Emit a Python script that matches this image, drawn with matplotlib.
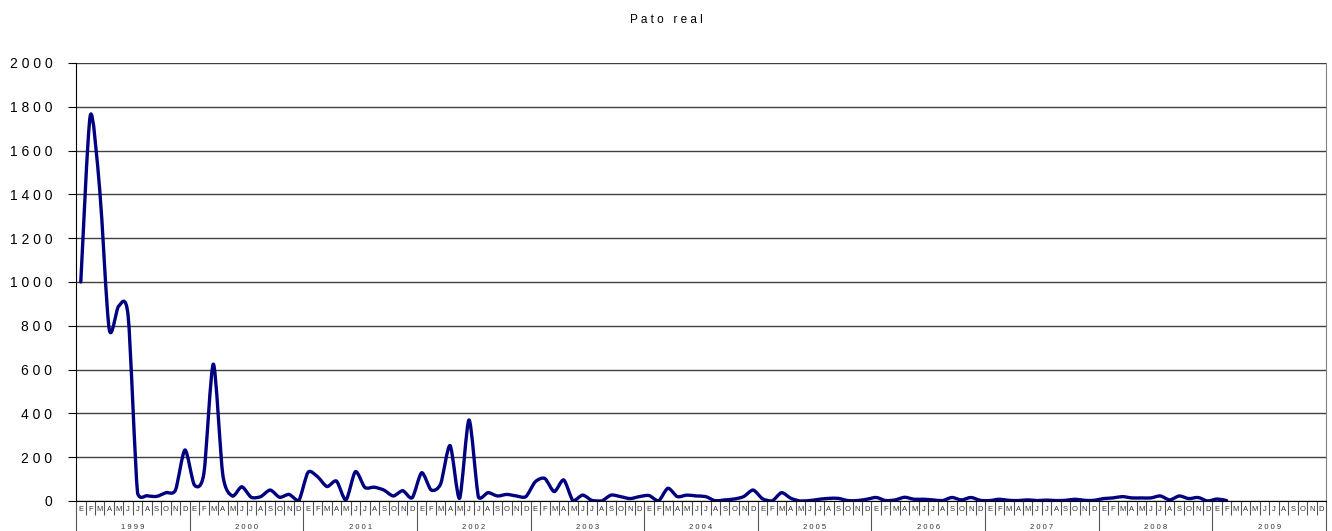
import numpy as np
import matplotlib
matplotlib.use('Agg')
import matplotlib.pyplot as plt
import matplotlib.transforms as mtransforms
from matplotlib.path import Path
from matplotlib.patches import PathPatch

plt.rcParams['font.family'] = ['Liberation Sans', 'DejaVu Sans']

years = ['1999', '2000', '2001', '2002', '2003', '2004', '2005', '2006', '2007', '2008', '2009']
months = ['E', 'F', 'M', 'A', 'M', 'J', 'J', 'A', 'S', 'O', 'N', 'D']

# monthly counts, Jan 1999 .. Feb 2009
v1999 = [1000, 1760, 1420, 785, 890, 845, 35, 24, 21, 38, 50, 233]
v2000 = [73, 126, 625, 119, 23, 65, 17, 20, 50, 17, 30, 0]
v2001 = [131, 111, 66, 91, 5, 134, 62, 63, 50, 23, 47, 15]
v2002 = [129, 50, 78, 253, 12, 370, 17, 38, 23, 30, 23, 20]
v2003 = [88, 103, 43, 96, 0, 27, 2, 0, 27, 20, 11, 20]
v2004 = [25, 0, 58, 20, 27, 23, 20, 1, 5, 9, 20, 50]
v2005 = [10, 0, 38, 12, 0, 2, 8, 12, 12, 2, 2, 8]
v2006 = [16, 2, 5, 17, 8, 8, 5, 2, 16, 5, 16, 3]
v2007 = [2, 8, 3, 2, 5, 2, 4, 2, 3, 8, 3, 3]
v2008 = [11, 14, 20, 14, 14, 14, 23, 5, 23, 11, 16, 0]
v2009 = [9, 2]

values = np.array(v1999 + v2000 + v2001 + v2002 + v2003 + v2004 +
                  v2005 + v2006 + v2007 + v2008 + v2009, dtype=float)
n_months = 12 * len(years)
x = np.arange(len(values)) + 0.5


def smooth_path(xs, ys, t=0.13):
    # bezier path through the points (like a spreadsheet "smoothed line")
    verts = [(xs[0], ys[0])]
    codes = [Path.MOVETO]
    n = len(xs)
    for i in range(n - 1):
        p0 = np.array([xs[max(i - 1, 0)], ys[max(i - 1, 0)]])
        p1 = np.array([xs[i], ys[i]])
        p2 = np.array([xs[i + 1], ys[i + 1]])
        p3 = np.array([xs[min(i + 2, n - 1)], ys[min(i + 2, n - 1)]])
        c1 = p1 + (p2 - p0) * t
        c2 = p2 - (p3 - p1) * t
        c1[1] = max(c1[1], 0)
        c2[1] = max(c2[1], 0)
        verts += [tuple(c1), tuple(c2), tuple(p2)]
        codes += [Path.CURVE4] * 3
    return Path(verts, codes)


fig = plt.figure(figsize=(13.32, 5.31), dpi=100)
ax = fig.add_axes([0.0571, 0.0565, 0.9384, 0.8249])

ax.set_xlim(0, n_months)
ax.set_ylim(0, 2000)
ax.set_yticks(np.arange(0, 2001, 200))
ax.yaxis.grid(True, color='#404040', linewidth=1.0)
ax.set_axisbelow(True)

patch = PathPatch(smooth_path(x, values), facecolor='none', edgecolor='#000080',
                  linewidth=2.4, capstyle='round', joinstyle='round')
ax.add_patch(patch)

ax.spines['top'].set_visible(False)
ax.spines['left'].set_color('#000000')
ax.spines['bottom'].set_color('#000000')
ax.spines['right'].set_color('#808080')

ax.tick_params(axis='y', direction='out', length=6, labelsize=10, pad=11)
ax.set_yticklabels([' '.join(str(v)) for v in range(0, 2001, 200)])

ax.set_xticks(np.arange(0, n_months + 1, 12))
ax.set_xticks(np.arange(0, n_months + 1), minor=True)
ax.set_xticklabels([])
ax.tick_params(axis='x', which='major', direction='out', length=22, width=0.8, color='#555555')
ax.tick_params(axis='x', which='minor', direction='out', length=10, width=0.8, color='#555555')

trans = mtransforms.blended_transform_factory(ax.transData, ax.transAxes)
for i in range(n_months):
    ax.text(i + 0.5, -0.019, months[i % 12], transform=trans, ha='center', va='center',
            fontsize=5.5, color='#333333')
for k, yr in enumerate(years):
    ax.text(12 * k + 6, -0.06, ' '.join(yr), transform=trans, ha='center', va='center',
            fontsize=5.5, color='#333333')

fig.text(0.5, 0.962, 'P a t o   r e a l', ha='center', va='center', fontsize=8.5)

fig.savefig('out.png', dpi=100)
